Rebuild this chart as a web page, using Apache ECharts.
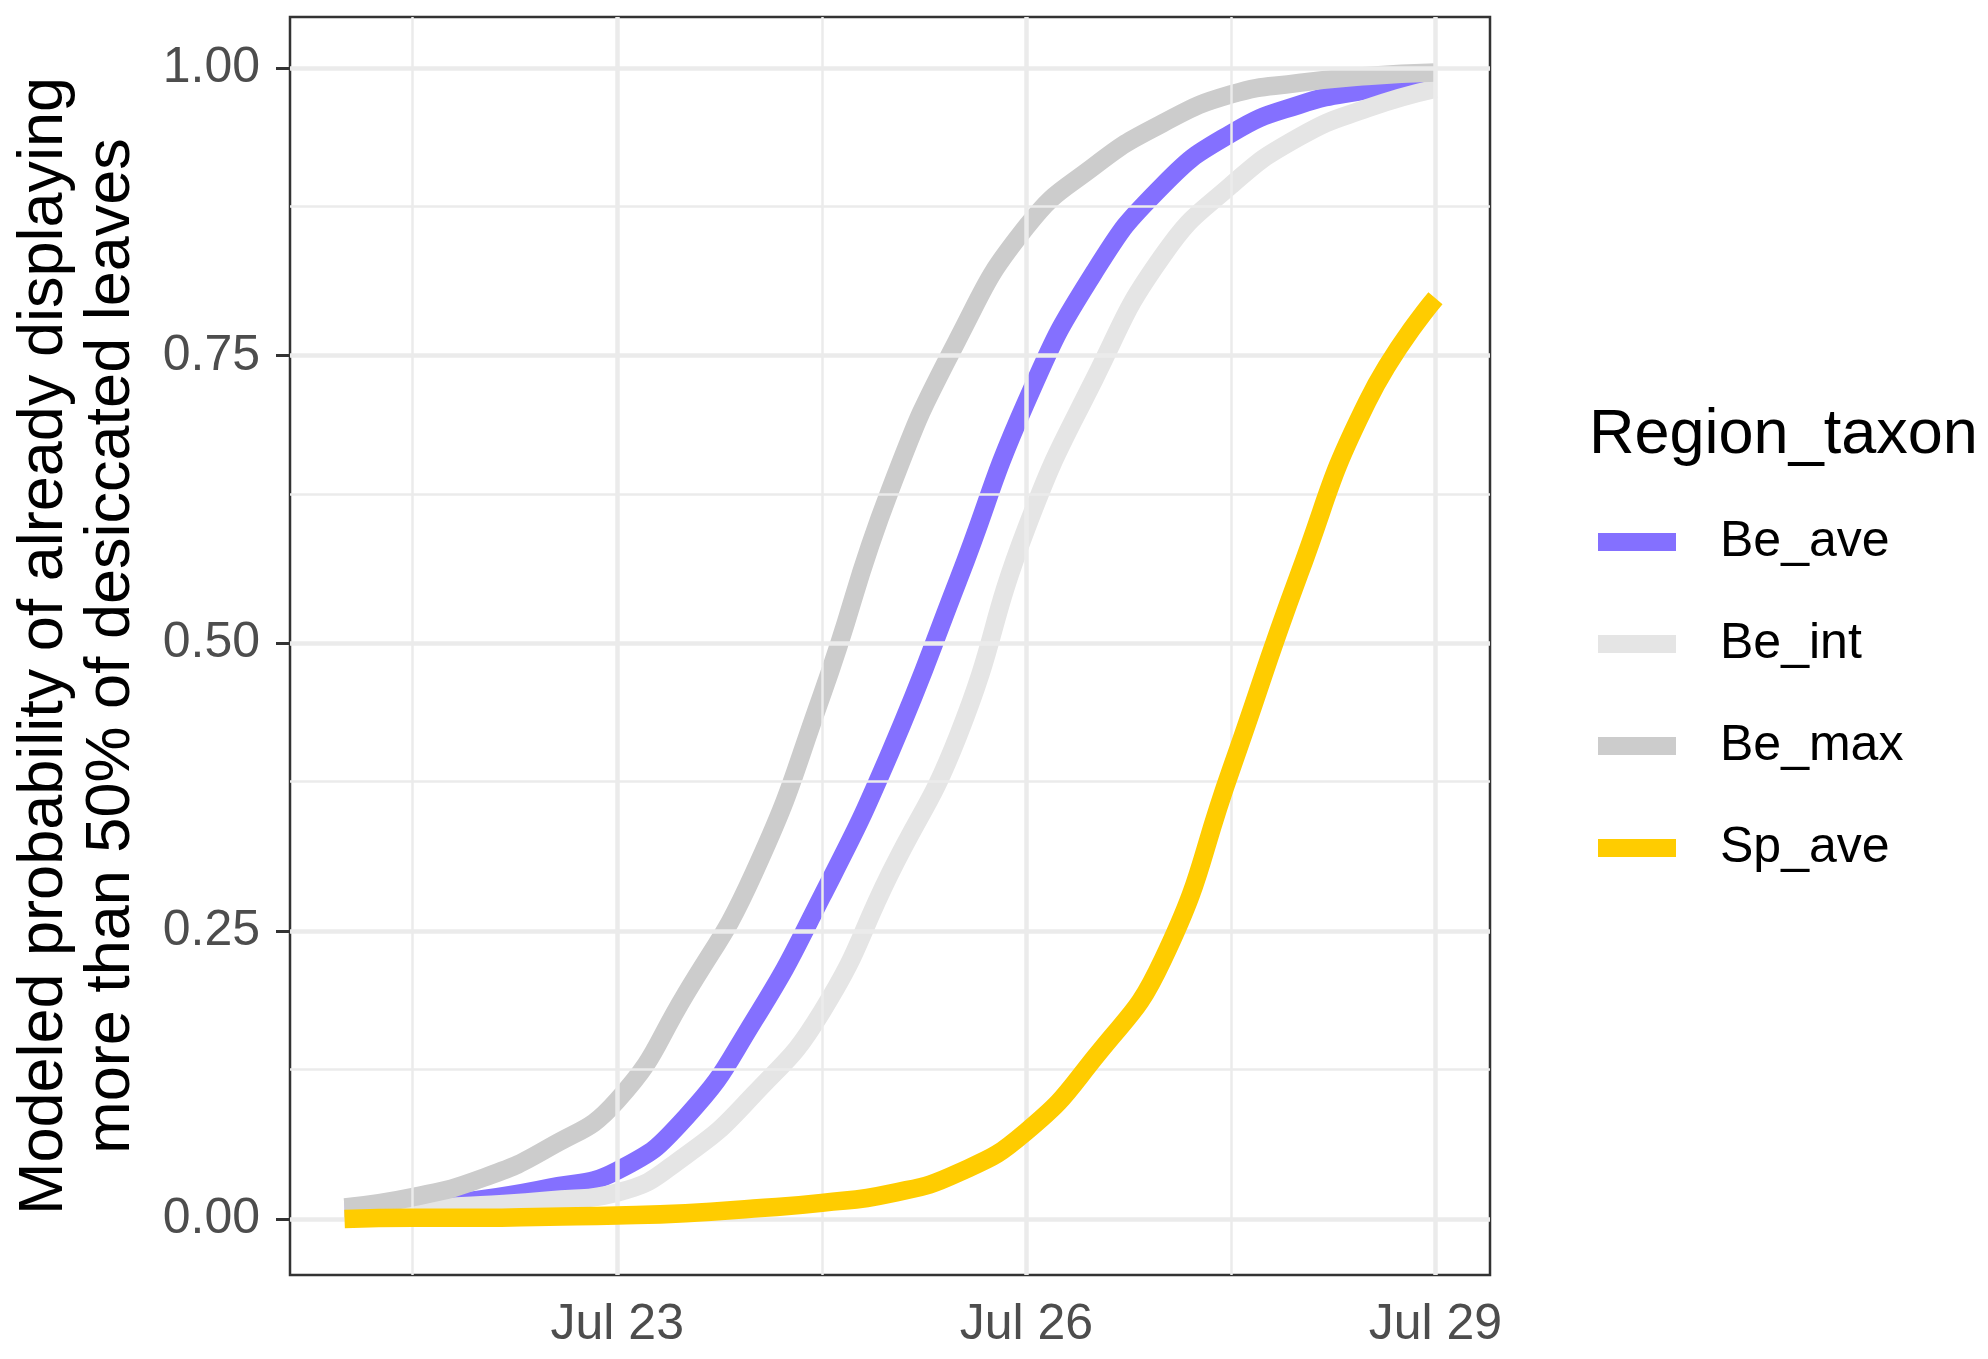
<!DOCTYPE html>
<html>
<head>
<meta charset="utf-8">
<script src="https://cdn.jsdelivr.net/npm/echarts@6/dist/echarts.min.js"></script>
<style>
html,body{margin:0;padding:0;background:#fff;}
#chart{width:1988px;height:1359px;}
</style>
</head>
<body>
<div id="chart"></div>
<script>
// Day of July
const days = [21, 21.5, 22, 22.5, 23, 23.5, 24, 24.5, 25, 25.5, 26, 26.5, 27, 27.5, 28, 28.5, 29];
const beAve = [0.007, 0.010, 0.017, 0.027, 0.042, 0.088, 0.172, 0.280, 0.405, 0.555, 0.710, 0.823, 0.898, 0.943, 0.968, 0.981, 0.990];
const beInt = [0.008, 0.009, 0.012, 0.016, 0.023, 0.055, 0.108, 0.180, 0.300, 0.420, 0.600, 0.730, 0.837, 0.898, 0.940, 0.965, 0.982];
const beMax = [0.010, 0.019, 0.035, 0.062, 0.103, 0.195, 0.300, 0.455, 0.633, 0.765, 0.862, 0.915, 0.952, 0.977, 0.987, 0.993, 0.996];
const spAve = [0.000, 0.001, 0.001, 0.002, 0.003, 0.005, 0.009, 0.014, 0.022, 0.040, 0.076, 0.140, 0.225, 0.390, 0.560, 0.710, 0.800];
const seriesNames = ['Be_ave', 'Be_int', 'Be_max', 'Sp_ave'];
const seriesColors = ['#8470FF', '#E5E5E5', '#CCCCCC', '#FFCC00'];
const xTicks = [23, 26, 29];
const xMinor = [21.5, 24.5, 27.5];
const yTicks = [0, 0.25, 0.5, 0.75, 1];
const yMinor = [0.125, 0.375, 0.625, 0.875];
const xTitle = '';
const yTitle = 'Modeled probability of already displaying\nmore than 50% of desiccated leaves';
const legendTitle = 'Region_taxon';

const allValues = [beAve, beInt, beMax, spAve];
const FONT = '"Liberation Sans", Arial, sans-serif';

const chart = echarts.init(document.getElementById('chart'), null, {renderer: 'canvas'});

const gridLines = [];
xMinor.forEach(v => gridLines.push({xAxis: v, lineStyle: {color: '#EBEBEB', width: 2.5, type: 'solid'}}));
yMinor.forEach(v => gridLines.push({yAxis: v, lineStyle: {color: '#EBEBEB', width: 2.5, type: 'solid'}}));
xTicks.forEach(v => gridLines.push({xAxis: v, lineStyle: {color: '#EBEBEB', width: 4.5, type: 'solid'}}));
yTicks.forEach(v => gridLines.push({yAxis: v, lineStyle: {color: '#EBEBEB', width: 4.5, type: 'solid'}}));

const series = [{
  name: '__grid',
  type: 'line',
  data: [],
  z: 1,
  silent: true,
  markLine: {
    silent: true,
    symbol: ['none', 'none'],
    label: {show: false},
    animation: false,
    data: gridLines
  }
}];
seriesNames.forEach((n, i) => {
  series.push({
    name: n,
    type: 'line',
    z: 2 + i,
    data: days.map((d, j) => [d, allValues[i][j]]),
    showSymbol: false,
    smooth: 0.5,
    color: seriesColors[i],
    itemStyle: {color: seriesColors[i]},
    lineStyle: {color: seriesColors[i], width: 18.5, cap: 'butt', join: 'round'},
    emphasis: {disabled: true}
  });
});

chart.setOption({
  animation: false,
  backgroundColor: '#ffffff',
  title: {
    text: legendTitle,
    left: 1589,
    top: 404,
    padding: 0,
    textStyle: {fontFamily: FONT, fontSize: 63, fontWeight: 'normal', color: '#000000'}
  },
  legend: {
    orient: 'vertical',
    left: 1598,
    top: 517,
    padding: 0,
    itemWidth: 78,
    itemHeight: 18,
    itemGap: 52,
    icon: 'rect',
    data: seriesNames,
    selectedMode: false,
    textStyle: {fontFamily: FONT, fontSize: 50, color: '#000000', lineHeight: 48, padding: [0, 0, 0, 39]}
  },
  grid: {
    left: 290, top: 17, width: 1200, height: 1258,
    show: true,
    backgroundColor: '#ffffff',
    borderColor: '#333333',
    borderWidth: 2.5,
    containLabel: false
  },
  xAxis: {
    type: 'value',
    min: 20.6,
    max: 29.4,
    name: xTitle,
    axisLine: {show: false},
    splitLine: {show: false},
    axisTick: {show: true, customValues: xTicks, length: 14, lineStyle: {color: '#333333', width: 3}},
    axisLabel: {
      customValues: xTicks,
      formatter: v => 'Jul ' + Math.round(v),
      fontFamily: FONT, fontSize: 50, color: '#4D4D4D', margin: 25
    }
  },
  yAxis: {
    type: 'value',
    min: -0.0487,
    max: 1.0443,
    name: yTitle,
    nameLocation: 'middle',
    nameRotate: 90,
    nameGap: 145,
    nameTextStyle: {fontFamily: FONT, fontSize: 63, color: '#000000', lineHeight: 67, align: 'center'},
    axisLine: {show: false},
    splitLine: {show: false},
    axisTick: {show: true, customValues: yTicks, length: 14, lineStyle: {color: '#333333', width: 3}},
    axisLabel: {
      customValues: yTicks,
      formatter: v => v.toFixed(2),
      fontFamily: FONT, fontSize: 50, color: '#4D4D4D', margin: 30
    }
  },
  series: series
});
</script>
</body>
</html>
